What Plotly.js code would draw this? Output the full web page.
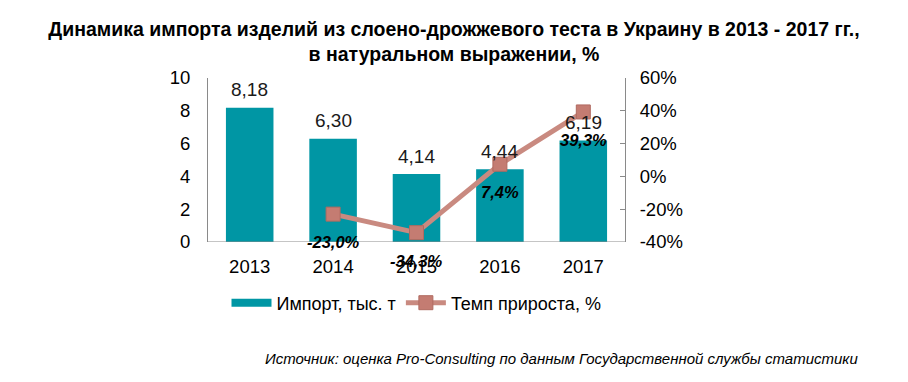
<!DOCTYPE html>
<html><head><meta charset="utf-8">
<script src="https://cdn.plot.ly/plotly-3.0.1.min.js"></script>
<style>body{margin:0;background:#fff}#c{width:908px;height:382px}</style>
</head><body><div id="c"></div>
<script>
const years = ['2013','2014','2015','2016','2017'];
const importVals = [8.18, 6.30, 4.14, 4.44, 6.19];
const growthVals = [null, -23.0, -34.3, 7.4, 39.3];
const leftTicks = [0,2,4,6,8,10];
const rightTicks = [-40,-20,0,20,40,60];

const fmt = (v,d) => v.toFixed(d).replace('.', ',');
const FONT = 'Arial, Liberation Sans, sans-serif';
const bar = {
  type:'bar', x: years, y: importVals, name:'Импорт, тыс. т',
  marker:{color:'#0096A4'}, showlegend:false, hoverinfo:'none'
};
const barLegend = {
  type:'scatter', mode:'lines', x:[years[0]], y:[null], name:'Импорт, тыс. т',
  line:{color:'#0096A4', width:8}, hoverinfo:'none'
};
const line = {
  type:'scatter', mode:'lines+markers', x: years, y: growthVals, yaxis:'y2',
  name:'Темп прироста, %',
  line:{color:'#C98A80', width:5},
  marker:{symbol:'square', size:14, color:'#C47C72', line:{color:'#B06A60', width:1}},
  cliponaxis:false, connectgaps:false, hoverinfo:'none'
};
const barLabels = years.map((yr,i)=>({
  x: i, y: importVals[i], xref:'x', yref:'y', text: fmt(importVals[i],2),
  showarrow:false, yanchor:'middle', yshift:18,
  font:{family:FONT, size:19, color:'#1a1a1a'}
}));
const lineLabels = years.map((yr,i)=> growthVals[i]===null ? null : ({
  x: i, y: growthVals[i], xref:'x', yref:'y2', text: fmt(growthVals[i],1)+'%',
  showarrow:false, yanchor:'middle', yshift:-28,
  font:{family:FONT, size:16.5, color:'#000', weight:'bold', style:'italic'}
})).filter(a=>a);
const layout = {
  width:908, height:382,
  margin:{l:208, r:283, t:78, b:140},
  paper_bgcolor:'#fff', plot_bgcolor:'#fff',
  font:{family:FONT, size:16, color:'#1a1a1a'},
  title:{text:'<b>Динамика импорта изделий из слоено-дрожжевого теста в Украину в 2013 - 2017 гг.,<br>в натуральном выражении, %</b>',
    font:{family:FONT, size:19.5, color:'#000'}, x:0.5, xref:'container', y:1-36/382, yanchor:'middle'},
  bargap:0.43,
  showlegend:true,
  legend:{orientation:'h', traceorder:'normal', x:0.5, xanchor:'center', y:(242-303)/164, yanchor:'middle', font:{size:18, color:'#000'}, itemwidth:40},
  xaxis:{type:'category', categoryorder:'array', categoryarray:years, range:[-0.5,4.5], showline:false, ticks:'', tickfont:{size:18.5, color:'#000'}, showgrid:false, ticklabelstandoff:11},
  yaxis:{range:[0,10], tickvals:leftTicks, ticktext:leftTicks.map(String), showgrid:false, zeroline:false,
    showline:true, linecolor:'#8a8a8a', linewidth:1, ticks:'', tickfont:{size:18.5, color:'#000'}, ticklabelstandoff:13},
  yaxis2:{overlaying:'y', side:'right', range:[-40,60], tickvals:rightTicks, ticktext:rightTicks.map(v=>v+'%'),
    showgrid:false, zeroline:false, showline:true, linecolor:'#8a8a8a', linewidth:1, ticks:'inside', ticklen:5, tickcolor:'#8a8a8a', tickfont:{size:18.5, color:'#000'}, ticklabelstandoff:10},
  shapes:[{type:'line', xref:'paper', yref:'y', x0:0, x1:1, y0:0, y1:0, line:{color:'#8a8a8a', width:1}}],
  annotations:barLabels.concat(lineLabels).concat([{text:'Источник: оценка Pro-Consulting по данным Государственной службы статистики', xref:'paper', yref:'paper',
    x:(860-208)/417, xanchor:'right', y:(242-358)/164, yanchor:'middle', showarrow:false, font:{family:FONT, size:15, style:'italic', color:'#000'}}])
};
Plotly.newPlot('c',[bar,barLegend,line],layout,{staticPlot:true});
</script></body></html>
